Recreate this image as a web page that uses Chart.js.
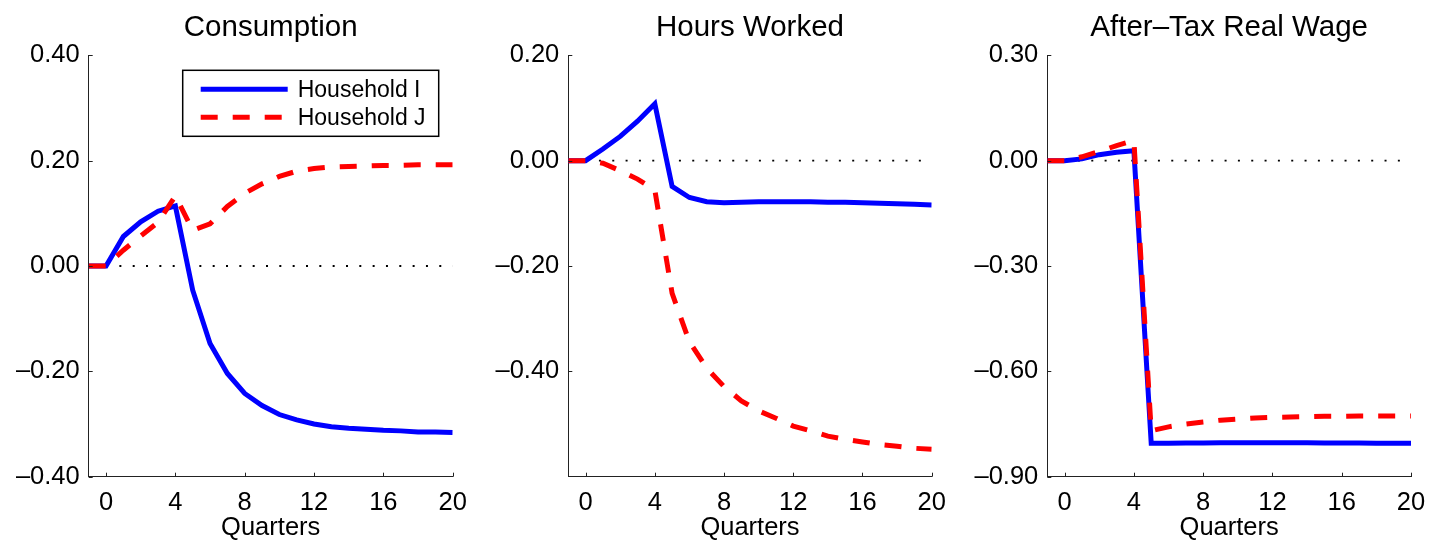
<!DOCTYPE html>
<html>
<head>
<meta charset="utf-8">
<script src="https://cdn.jsdelivr.net/npm/chart.js@4.4.0/dist/chart.umd.min.js"></script>
<style>
  html, body { margin: 0; padding: 0; background: #fff; }
  body { width: 1429px; height: 546px; position: relative; overflow: hidden; }
  .panel { position: absolute; top: 0; height: 546px; }
</style>
</head>
<body>
<div class="panel" style="left:0;width:476px"><canvas id="c1"></canvas></div>
<div class="panel" style="left:476px;width:477px"><canvas id="c2"></canvas></div>
<div class="panel" style="left:953px;width:476px"><canvas id="c3"></canvas></div>
<script>
const quarters = [-1, 0, 1, 2, 3, 4, 5, 6, 7, 8, 9, 10, 11, 12, 13, 14, 15, 16, 17, 18, 19, 20];
const xTicks = [0, 4, 8, 12, 16, 20];

const consumptionI = [0, 0, 0.056, 0.084, 0.104, 0.114, -0.046, -0.147, -0.204, -0.242, -0.265, -0.282, -0.292, -0.300, -0.305, -0.308, -0.310, -0.312, -0.313, -0.315, -0.315, -0.316];
const consumptionJ = [0, 0, 0.030, 0.057, 0.083, 0.133, 0.068, 0.080, 0.113, 0.138, 0.156, 0.170, 0.180, 0.185, 0.188, 0.189, 0.190, 0.191, 0.191, 0.192, 0.192, 0.192];
const hoursI = [0, 0, 0.022, 0.046, 0.075, 0.108, -0.049, -0.070, -0.078, -0.080, -0.079, -0.078, -0.078, -0.078, -0.078, -0.079, -0.079, -0.080, -0.081, -0.082, -0.083, -0.084];
const hoursJ = [0, 0, -0.005, -0.019, -0.035, -0.056, -0.252, -0.344, -0.394, -0.429, -0.456, -0.475, -0.489, -0.504, -0.513, -0.523, -0.529, -0.534, -0.539, -0.542, -0.546, -0.548];
const wageI = [0, 0, 0.005, 0.017, 0.024, 0.028, -0.805, -0.805, -0.804, -0.804, -0.803, -0.803, -0.803, -0.803, -0.803, -0.803, -0.804, -0.804, -0.804, -0.805, -0.805, -0.805];
const wageJ = [0, 0, 0.011, 0.026, 0.043, 0.057, -0.769, -0.758, -0.750, -0.744, -0.739, -0.736, -0.733, -0.731, -0.730, -0.729, -0.728, -0.728, -0.727, -0.727, -0.727, -0.727];

const consumptionTicks = [-0.4, -0.2, 0, 0.2, 0.4];
const hoursTicks = [-0.4, -0.2, 0, 0.2];
const wageTicks = [-0.9, -0.6, -0.3, 0, 0.3];

const FONT = "'Liberation Sans', Arial, Helvetica, sans-serif";

function points(values) {
  return quarters.map((q, i) => ({ x: q, y: values[i] }));
}

function fmt(value) {
  const v = Math.round(value * 100) / 100;
  return (v < 0 ? "\u2013" : "") + Math.abs(v).toFixed(2);
}

// MATLAB style inward tick marks
const inTicks = {
  id: "inTicks",
  afterDraw(chart) {
    const { ctx } = chart;
    const x = chart.scales.x;
    const y = chart.scales.y;
    ctx.save();
    ctx.strokeStyle = "#222";
    ctx.lineWidth = 1;
    ctx.beginPath();
    x.ticks.forEach((t) => {
      const px = Math.round(x.getPixelForValue(t.value)) + 0.5;
      ctx.moveTo(px, y.bottom);
      ctx.lineTo(px, y.bottom - 4);
    });
    y.ticks.forEach((t) => {
      const py = Math.round(y.getPixelForValue(t.value)) + 0.5;
      ctx.moveTo(x.left, py);
      ctx.lineTo(x.left + 4, py);
    });
    ctx.stroke();
    ctx.restore();
  },
};

// title centred over the plot area, not the whole canvas
const areaTitle = {
  id: "areaTitle",
  afterDraw(chart) {
    const text = chart.options.plugins.areaTitle.text;
    const { ctx, chartArea } = chart;
    ctx.save();
    ctx.fillStyle = "#000";
    ctx.font = "29.5px " + FONT;
    ctx.textAlign = "center";
    ctx.textBaseline = "alphabetic";
    ctx.fillText(text, (chartArea.left + chartArea.right) / 2, 36);
    ctx.restore();
  },
};

const boxLegend = {
  id: "boxLegend",
  afterDraw(chart) {
    if (!chart.options.plugins.boxLegend.show) {
      return;
    }
    const { ctx, chartArea } = chart;
    const left = chartArea.left + 94;
    const top = chartArea.top + 15;
    const w = 256;
    const h = 66;
    ctx.save();
    ctx.fillStyle = "#fff";
    ctx.fillRect(left, top, w, h);
    ctx.strokeStyle = "#000";
    ctx.lineWidth = 1.5;
    ctx.strokeRect(left, top, w, h);
    const items = chart.data.datasets.filter((d) => d.label);
    const rows = [19, 47];
    items.forEach((d, i) => {
      const yy = top + rows[i];
      ctx.strokeStyle = d.borderColor;
      ctx.lineWidth = d.borderWidth;
      ctx.setLineDash(d.borderDash || []);
      ctx.beginPath();
      ctx.moveTo(left + 18, yy);
      ctx.lineTo(left + 105, yy);
      ctx.stroke();
      ctx.setLineDash([]);
      ctx.fillStyle = "#000";
      ctx.font = "23px " + FONT;
      ctx.textBaseline = "middle";
      ctx.fillText(d.label, left + 115, yy + 1);
    });
    ctx.restore();
  },
};

function buildChart(id, title, seriesI, seriesJ, yMin, yMax, yTicks, yWidth, padRight, showLegend) {
  return new Chart(document.getElementById(id), {
    type: "line",
    data: {
      datasets: [
        {
          label: "Household I",
          data: points(seriesI),
          borderColor: "#0000ff",
          borderWidth: 5,
          pointRadius: 0,
          tension: 0,
          borderJoinStyle: "miter",
          order: 2,
        },
        {
          label: "Household J",
          data: points(seriesJ),
          borderColor: "#ff0000",
          borderWidth: 5,
          borderDash: [17, 15],
          pointRadius: 0,
          tension: 0,
          order: 1,
        },
        {
          label: "",
          data: [{ x: 0, y: 0 }, { x: 20, y: 0 }],
          borderColor: "#000",
          borderWidth: 1.8,
          borderDash: [2, 11.33],
          pointRadius: 0,
          order: 3,
        },
      ],
    },
    options: {
      responsive: true,
      maintainAspectRatio: false,
      animation: false,
      layout: { padding: { left: 0, right: padRight, top: 55.3, bottom: 0 } },
      plugins: {
        legend: { display: false },
        tooltip: { enabled: false },
        title: { display: false },
        boxLegend: { show: showLegend },
        areaTitle: { text: title },
      },
      scales: {
        x: {
          type: "linear",
          min: -1,
          max: 20,
          afterBuildTicks: (scale) => {
            scale.ticks = xTicks.map((v) => ({ value: v }));
          },
          afterFit: (scale) => {
            scale.height = 69.3;
            scale.paddingLeft = 0;
            scale.paddingRight = 0;
          },
          grid: { display: false, drawTicks: false },
          border: { display: true, color: "#222", width: 1 },
          ticks: {
            color: "#000",
            padding: 11,
            maxRotation: 0,
            font: { family: FONT, size: 25.5 },
            callback: (v) => String(v),
          },
          title: {
            display: true,
            text: "Quarters",
            color: "#000",
            font: { family: FONT, size: 25.5 },
            padding: { top: 0, bottom: 3 },
          },
        },
        y: {
          min: yMin,
          max: yMax,
          afterBuildTicks: (scale) => {
            scale.ticks = yTicks.map((v) => ({ value: v }));
          },
          afterFit: (scale) => {
            scale.width = yWidth;
            scale.paddingTop = 0;
            scale.paddingBottom = 0;
          },
          grid: { display: false, drawTicks: false },
          border: { display: true, color: "#222", width: 1 },
          ticks: {
            color: "#000",
            padding: 9,
            font: { family: FONT, size: 25.5 },
            callback: (v) => fmt(v),
          },
        },
      },
    },
    plugins: [inTicks, areaTitle, boxLegend],
  });
}

buildChart("c1", "Consumption", consumptionI, consumptionJ, -0.4, 0.4, consumptionTicks, 88.7, 23.3, true);
buildChart("c2", "Hours Worked", hoursI, hoursJ, -0.6, 0.2, hoursTicks, 92.3, 21.3, false);
buildChart("c3", "After\u2013Tax Real Wage", wageI, wageJ, -0.9, 0.3, wageTicks, 94.3, 18, false);
</script>
</body>
</html>
